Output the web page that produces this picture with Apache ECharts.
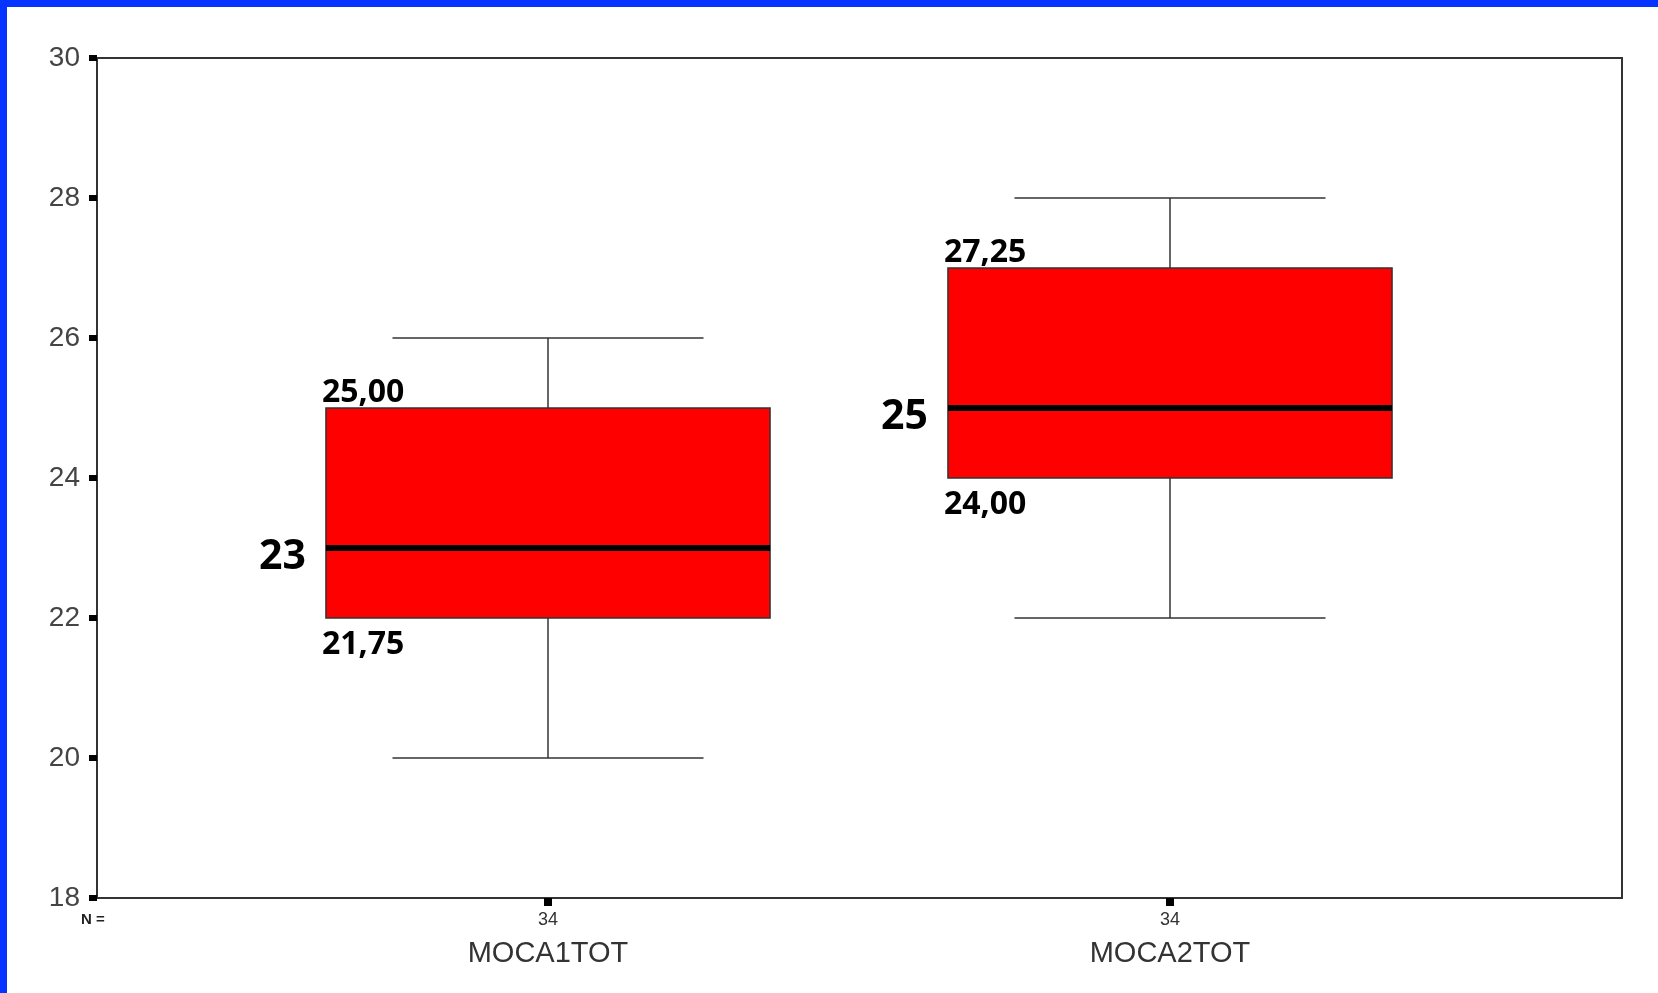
<!DOCTYPE html>
<html>
<head>
<meta charset="utf-8">
<title>MOCA1TOT / MOCA2TOT</title>
<script src="https://cdn.jsdelivr.net/npm/echarts@6/dist/echarts.min.js"></script>
<style>
  html, body { margin: 0; padding: 0; background: #ffffff; }
  #chart { width: 1658px; height: 993px; }
</style>
</head>
<body>
<div id="chart"></div>
<script>
// Variables and group sizes
const categories = ['MOCA1TOT', 'MOCA2TOT'];
const groupN = [34, 34];

// Box-plot statistics (Tukey hinges drive the box, whiskers run to min/max)
const lowWhisker  = [20, 22];
const lowerHinge  = [22, 24];
const medians     = [23, 25];
const upperHinge  = [25, 27];
const highWhisker = [26, 28];

// Reported percentiles written beside each box
const percentile25 = [21.75, 24.00];
const percentile75 = [25.00, 27.25];

// Y axis scale
const yMin = 18, yMax = 30, yStep = 2;

const boxData = categories.map((c, i) => [i, lowWhisker[i], lowerHinge[i], medians[i], upperHinge[i], highWhisker[i]]);

const fmtComma = v => v.toFixed(2).replace('.', ',');
const LABEL_FONT = 'bold 32px "Open Sans", "Noto Sans", sans-serif';
const MEDIAN_FONT = 'bold 41px "Open Sans", "Noto Sans", sans-serif';

function renderBox(params, api) {
  const idx = params.dataIndex;
  const x = api.value(0);
  const band = api.size([1, 0])[0];
  const half = band * 0.357;
  const capHalf = band * 0.25;
  const pLow = api.coord([x, api.value(1)]);
  const pQ1 = api.coord([x, api.value(2)]);
  const pMed = api.coord([x, api.value(3)]);
  const pQ3 = api.coord([x, api.value(4)]);
  const pHigh = api.coord([x, api.value(5)]);
  const cx = pMed[0];
  const left = cx - half;
  const lineStyle = { stroke: '#333333', lineWidth: 1.5 };

  const text = (str, tx, ty, font, align) => ({
    type: 'text',
    style: {
      text: str, x: tx, y: ty, font: font, fill: '#000000',
      align: align, verticalAlign: 'middle'
    }
  });

  return {
    type: 'group',
    children: [
      // whisker stems
      { type: 'line', shape: { x1: cx, y1: pHigh[1], x2: cx, y2: pQ3[1] }, style: lineStyle },
      { type: 'line', shape: { x1: cx, y1: pQ1[1], x2: cx, y2: pLow[1] }, style: lineStyle },
      // whisker caps
      { type: 'line', shape: { x1: cx - capHalf, y1: pHigh[1], x2: cx + capHalf, y2: pHigh[1] }, style: lineStyle },
      { type: 'line', shape: { x1: cx - capHalf, y1: pLow[1], x2: cx + capHalf, y2: pLow[1] }, style: lineStyle },
      // box
      {
        type: 'rect',
        shape: { x: left, y: pQ3[1], width: half * 2, height: pQ1[1] - pQ3[1] },
        style: { fill: '#ff0000', stroke: '#333333', lineWidth: 1.5 }
      },
      // median
      {
        type: 'line',
        shape: { x1: left, y1: pMed[1], x2: left + half * 2, y2: pMed[1] },
        style: { stroke: '#000000', lineWidth: 6 }
      },
      // annotations
      text(fmtComma(percentile75[idx]), left - 4, pQ3[1] - 15, LABEL_FONT, 'left'),
      text(fmtComma(percentile25[idx]), left - 4, pQ1[1] + 27, LABEL_FONT, 'left'),
      text(String(medians[idx]), left - 20, pMed[1] + 9, MEDIAN_FONT, 'right')
    ]
  };
}

const chart = echarts.init(document.getElementById('chart'), null, { renderer: 'canvas' });

chart.setOption({
  animation: false,
  backgroundColor: '#ffffff',
  grid: [
    { left: 97, right: 36, top: 58, bottom: 95, show: true, borderColor: '#333333', borderWidth: 2, backgroundColor: 'transparent' },
    { left: 237, right: 177, top: 58, bottom: 95 }
  ],
  xAxis: [
    { type: 'value', gridIndex: 0, show: false, min: 0, max: 1 },
    {
      type: 'category',
      gridIndex: 1,
      data: categories,
      boundaryGap: true,
      axisLine: { show: false },
      axisTick: { show: true, alignWithLabel: true, length: 8, lineStyle: { color: '#000000', width: 8 } },
      axisLabel: {
        margin: 12,
        formatter: (v, i) => '{n|' + groupN[i] + '}\n{c|' + v + '}',
        rich: {
          n: { fontFamily: '"Liberation Sans", Arial, sans-serif', fontSize: 18, color: '#333333', lineHeight: 21 },
          c: { fontFamily: '"Liberation Sans", Arial, sans-serif', fontSize: 29, color: '#333333', lineHeight: 46 }
        }
      },
      splitLine: { show: false }
    }
  ],
  yAxis: [
    {
      type: 'value',
      gridIndex: 0,
      min: yMin, max: yMax, interval: yStep,
      axisLine: { show: true, lineStyle: { color: '#333333', width: 2 } },
      axisTick: { show: true, length: 8, lineStyle: { color: '#000000', width: 6 } },
      axisLabel: {
        margin: 17,
        fontFamily: '"Liberation Sans", Arial, sans-serif',
        fontSize: 28,
        color: '#444444'
      },
      splitLine: { show: false }
    },
    { type: 'value', gridIndex: 1, min: yMin, max: yMax, show: false }
  ],
  graphic: [
    { type: 'rect', left: 0, top: 0, shape: { width: 1658, height: 7 }, style: { fill: '#0533ff' }, z: 10 },
    { type: 'rect', left: 0, top: 0, shape: { width: 7, height: 993 }, style: { fill: '#0533ff' }, z: 10 },
    {
      type: 'text', left: 81, top: 912,
      style: { text: 'N =', font: 'bold 15px "Liberation Sans", Arial, sans-serif', fill: '#222222' }
    }
  ],
  series: [
    {
      type: 'custom',
      xAxisIndex: 1,
      yAxisIndex: 1,
      renderItem: renderBox,
      encode: { x: 0, y: [1, 2, 3, 4, 5] },
      data: boxData,
      clip: false
    }
  ]
});
</script>
</body>
</html>
